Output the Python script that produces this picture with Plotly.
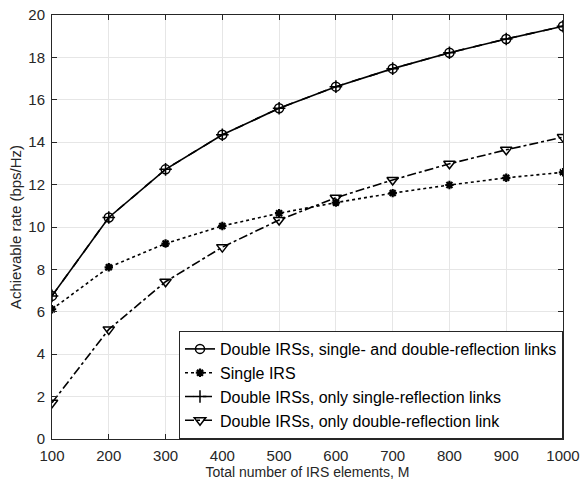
import plotly.graph_objects as go

M = [100, 200, 300, 400, 500, 600, 700, 800, 900, 1000]
double_both = [6.75, 10.45, 12.72, 14.35, 15.6, 16.62, 17.47, 18.22, 18.87, 19.47]
single_irs = [6.12, 8.1, 9.22, 10.05, 10.65, 11.15, 11.6, 11.98, 12.32, 12.58]
double_single_only = [6.75, 10.45, 12.72, 14.35, 15.6, 16.62, 17.47, 18.22, 18.87, 19.47]
double_double_only = [1.71, 5.17, 7.42, 9.05, 10.33, 11.38, 12.22, 12.98, 13.64, 14.24]

xticks = [100, 200, 300, 400, 500, 600, 700, 800, 900, 1000]
yticks = [0, 2, 4, 6, 8, 10, 12, 14, 16, 18, 20]

FONT = "Liberation Sans"

fig = go.Figure()
fig.add_trace(go.Scatter(
    x=M, y=double_both, mode="lines+markers",
    name="Double IRSs, single- and double-reflection links",
    line=dict(color="black", width=1.6, dash="solid"),
    marker=dict(symbol="circle-open", size=9, color="black", line=dict(width=1.5, color="black"))))
fig.add_trace(go.Scatter(
    x=M, y=single_irs, mode="lines+markers",
    name="Single IRS",
    line=dict(color="black", width=1.6, dash="dot"),
    marker=dict(symbol="asterisk-open", size=7, color="black", line=dict(width=2.2, color="black"))))
fig.add_trace(go.Scatter(
    x=M, y=double_single_only, mode="lines+markers",
    name="Double IRSs, only single-reflection links",
    line=dict(color="black", width=1.6, dash="dash"),
    marker=dict(symbol="cross-thin-open", size=9, color="black", line=dict(width=1.5, color="black"))))
fig.add_trace(go.Scatter(
    x=M, y=double_double_only, mode="lines+markers",
    name="Double IRSs, only double-reflection link",
    line=dict(color="black", width=1.6, dash="dashdot"),
    marker=dict(symbol="triangle-down-open", size=10, color="black", line=dict(width=1.5, color="black"))))

axis_common = dict(
    showline=True, linecolor="#262626", linewidth=1, mirror="allticks",
    ticks="inside", ticklen=5, tickcolor="#262626",
    showgrid=True, gridcolor="#e6e6e6", gridwidth=1, zeroline=False,
    automargin=False,
    tickfont=dict(family=FONT, size=15, color="#262626"),
)
fig.update_xaxes(range=[100, 1000], tickvals=xticks, ticktext=[str(v) for v in xticks],
                 ticklabelstandoff=3,
                 title=dict(text="Total number of IRS elements, M", standoff=0,
                            font=dict(family=FONT, size=14, color="#262626")),
                 **axis_common)
fig.update_yaxes(range=[0, 20], tickvals=yticks, ticktext=[str(v) for v in yticks],
                 ticklabelstandoff=3,
                 title=dict(text="Achievable rate (bps/Hz)", standoff=3,
                            font=dict(family=FONT, size=15, color="#262626")),
                 **axis_common)

fig.update_layout(
    width=581, height=485,
    margin=dict(l=52, r=18, t=15, b=46),
    paper_bgcolor="white", plot_bgcolor="white",
    showlegend=True,
    legend=dict(x=1, y=0, xanchor="right", yanchor="bottom",
                bgcolor="white", bordercolor="#262626", borderwidth=1,
                font=dict(family=FONT, size=16, color="black"),
                tracegroupgap=0, itemwidth=30),
)

fig.write_html("out.html")
